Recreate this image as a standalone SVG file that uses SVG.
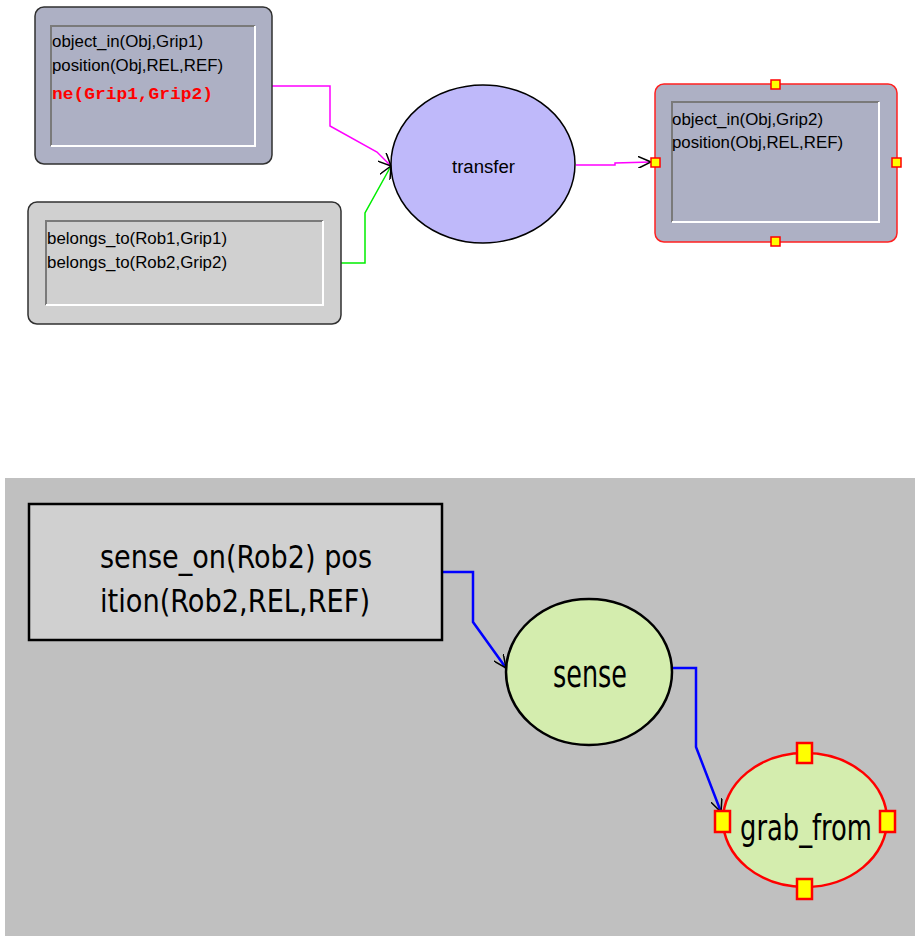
<svg xmlns="http://www.w3.org/2000/svg" width="915" height="936" viewBox="0 0 915 936">
<style>
.t{font-family:"Liberation Sans",Arial,sans-serif;font-size:16px;fill:#000}
.big{font-family:"DejaVu Sans Condensed","Liberation Sans",sans-serif;font-size:32px;fill:#000}
.out{stroke:#303030;stroke-width:1.5}
.hl{fill:#ffff00;stroke:#ff0000;stroke-width:1.5}
.hb{fill:#ffff00;stroke:#ff0000;stroke-width:2.5}
</style>
<defs>
<marker id="v" viewBox="0 0 14 12" refX="13" refY="6" markerWidth="14" markerHeight="12" markerUnits="userSpaceOnUse" orient="auto">
<path d="M0,0 L13,6 L0,12" fill="none" stroke="#000" stroke-width="1.5"/>
</marker>
</defs>
<rect x="0" y="0" width="915" height="936" fill="#fff"/>
<rect x="5" y="478" width="910" height="458" fill="#c0c0c0"/>
<g id="connectors" fill="none">
<polyline points="272,86 330,86 330,126 377,152 391,166" stroke="#ff00ff" stroke-width="1.5" marker-end="url(#v)"/>
<polyline points="341,263 365,263 365,213 391,166" stroke="#00ee00" stroke-width="1.5" marker-end="url(#v)"/>
<polyline points="576,165 615,165 615,163 651,162" stroke="#ff00ff" stroke-width="1.5" marker-end="url(#v)"/>
<polyline points="442,572 473,572 473,622 506,668" stroke="#0000ff" stroke-width="2.5" marker-end="url(#v)"/>
<polyline points="672,668 696,668 696,747 721,812" stroke="#0000ff" stroke-width="2.5" marker-end="url(#v)"/>
</g>
<g id="n1">
<rect x="35" y="7" width="237" height="157" rx="9" fill="#adb0c4" class="out"/>
<path d="M51,146 V26 H255" fill="none" stroke="#7a7a7a" stroke-width="2"/>
<path d="M51,146 H255 V26" fill="none" stroke="#fff" stroke-width="2"/>
<text class="t" x="52" y="47" textLength="151" lengthAdjust="spacingAndGlyphs">object_in(Obj,Grip1)</text>
<text class="t" x="52" y="71" textLength="171" lengthAdjust="spacingAndGlyphs">position(Obj,REL,REF)</text>
<text x="52" y="99" textLength="161" lengthAdjust="spacingAndGlyphs" style="font-family:'Liberation Mono','Courier New',monospace;font-size:16px;fill:#ff0000;font-weight:bold">ne(Grip1,Grip2)</text>
</g>
<g id="n2">
<rect x="28" y="202" width="313" height="122" rx="9" fill="#d0d0d0" class="out"/>
<path d="M46,305 V221 H323" fill="none" stroke="#7a7a7a" stroke-width="2"/>
<path d="M46,305 H323 V221" fill="none" stroke="#fff" stroke-width="2"/>
<text class="t" x="47" y="244" textLength="180" lengthAdjust="spacingAndGlyphs">belongs_to(Rob1,Grip1)</text>
<text class="t" x="47" y="268" textLength="180" lengthAdjust="spacingAndGlyphs">belongs_to(Rob2,Grip2)</text>
</g>
<g id="transfer">
<ellipse cx="483" cy="164" rx="92" ry="79" fill="#bfb9fa" stroke="#000" stroke-width="1.5"/>
<text class="t" x="452" y="173" textLength="63" lengthAdjust="spacingAndGlyphs" style="font-size:18px">transfer</text>
</g>
<g id="n3">
<rect x="655" y="84" width="242" height="158" rx="9" fill="#adb0c4" stroke="#ff2020" stroke-width="1.5"/>
<path d="M672,222 V102 H879" fill="none" stroke="#7a7a7a" stroke-width="2"/>
<path d="M672,222 H879 V102" fill="none" stroke="#fff" stroke-width="2"/>
<text class="t" x="672" y="125" textLength="151" lengthAdjust="spacingAndGlyphs">object_in(Obj,Grip2)</text>
<text class="t" x="672" y="148" textLength="171" lengthAdjust="spacingAndGlyphs">position(Obj,REL,REF)</text>
<rect class="hl" x="771" y="80" width="9" height="9"/>
<rect class="hl" x="771" y="237" width="9" height="9"/>
<rect class="hl" x="651" y="158" width="9" height="9"/>
<rect class="hl" x="892" y="158" width="9" height="9"/>
</g>
<g id="sensebox">
<rect x="29" y="504" width="413" height="136" fill="#d0d0d0" stroke="#000" stroke-width="2.5"/>
<text class="big" x="100" y="568" textLength="272" lengthAdjust="spacingAndGlyphs">sense_on(Rob2) pos</text>
<text class="big" x="100" y="612" textLength="270" lengthAdjust="spacingAndGlyphs">ition(Rob2,REL,REF)</text>
</g>
<g id="sense">
<ellipse cx="589" cy="672" rx="83" ry="73" fill="#d4edae" stroke="#000" stroke-width="2.5"/>
<text class="big" x="553" y="687" textLength="74" lengthAdjust="spacingAndGlyphs" style="font-size:38px">sense</text>
</g>
<g id="grab">
<ellipse cx="805" cy="820" rx="82" ry="67" fill="#d4edae" stroke="#ff0000" stroke-width="2.5"/>
<text class="big" x="740" y="840" textLength="132" lengthAdjust="spacingAndGlyphs" style="font-size:36px">grab_from</text>
<rect class="hb" x="797" y="743" width="15" height="20"/>
<rect class="hb" x="797" y="879" width="15" height="20"/>
<rect class="hb" x="715" y="811" width="15" height="21"/>
<rect class="hb" x="880" y="811" width="15" height="21"/>
</g>
</svg>
